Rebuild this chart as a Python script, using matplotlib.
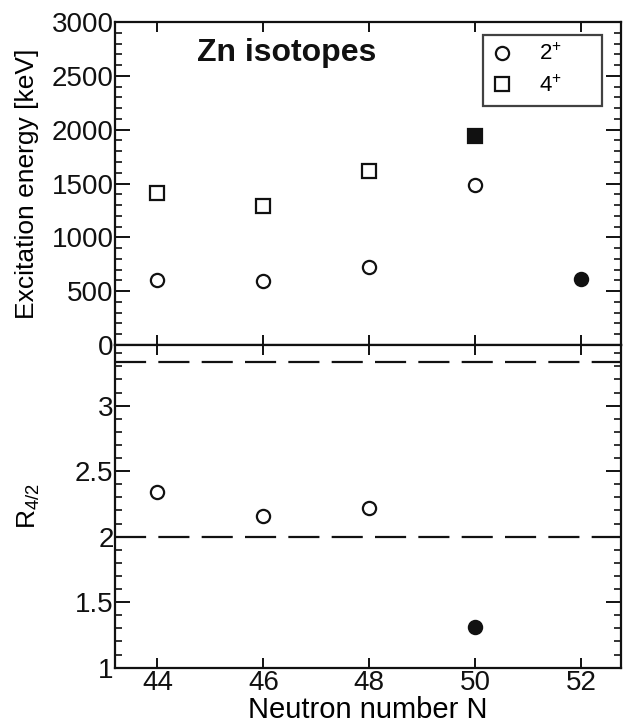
import matplotlib
matplotlib.use("Agg")
import matplotlib.pyplot as plt
from matplotlib.ticker import MultipleLocator, FixedLocator

plt.rcParams['font.family'] = ['Liberation Sans', 'DejaVu Sans']
plt.rcParams['mathtext.fontset'] = 'custom'
plt.rcParams['mathtext.rm'] = 'Liberation Sans'
plt.rcParams['mathtext.it'] = 'Liberation Sans:italic'

# ---- data ----
N_2plus_open = [44, 46, 48, 50]
E_2plus_open = [600, 595, 725, 1485]
N_2plus_filled = [52]
E_2plus_filled = [615]

N_4plus_open = [44, 46, 48]
E_4plus_open = [1412, 1290, 1615]
N_4plus_filled = [50]
E_4plus_filled = [1945]

N_R_open = [44, 46, 48]
R_open = [2.34, 2.16, 2.22]
N_R_filled = [50]
R_filled = [1.31]

R_ref_lines = [3.33, 2.0]

x_ticks = [44, 46, 48, 50, 52]
E_ticks = [0, 500, 1000, 1500, 2000, 2500, 3000]
R_ticks = [1, 1.5, 2, 2.5, 3]
R_tick_labels = ["1", "1.5", "2", "2.5", "3"]

W, H = 626, 726
fig = plt.figure(figsize=(W / 100, H / 100), dpi=100)

left = 115 / W
right = 621 / W
ax1 = fig.add_axes([left, (H - 345) / H, right - left, (345 - 22) / H])
ax2 = fig.add_axes([left, (H - 667.7) / H, right - left, (667.7 - 345) / H])

col = '#111111'
ms = 9.5
mew = 1.6

# top panel
ax1.plot(N_2plus_open, E_2plus_open, linestyle='none', marker='o', ms=ms,
         mfc='white', mec=col, mew=mew, label=r'2$^{+}$')
ax1.plot(N_4plus_open, E_4plus_open, linestyle='none', marker='s', ms=ms,
         mfc='white', mec=col, mew=mew, label=r'4$^{+}$')
ax1.plot(N_2plus_filled, E_2plus_filled, linestyle='none', marker='o', ms=ms,
         mfc=col, mec=col, mew=mew)
ax1.plot(N_4plus_filled, E_4plus_filled, linestyle='none', marker='s', ms=ms,
         mfc=col, mec=col, mew=mew)

ax1.set_xlim(43.2, 52.75)
ax1.set_ylim(0, 3000)
ax1.set_yticks(E_ticks)
ax1.yaxis.set_minor_locator(MultipleLocator(100))
ax1.set_xticks(x_ticks)
ax1.tick_params(axis='x', labelbottom=False)
ax1.set_ylabel('Excitation energy [keV]', fontsize=19)
ax1.yaxis.set_label_coords(-0.15, 0.5)
ax1.text(0.34, 0.905, 'Zn isotopes', transform=ax1.transAxes, fontsize=23,
         fontweight='bold', ha='center', va='center', color=col)

# legend box: x 483..602 px, y 35..108 px
lx0 = (483 - 115) / 506
lx1 = (602 - 115) / 506
ly1 = 1 - (35 - 22) / 323
ly0 = 1 - (108 - 22) / 323
leg = ax1.legend(loc='upper left', bbox_to_anchor=(lx0, ly0, lx1 - lx0, ly1 - ly0),
                 mode='expand', fontsize=16, frameon=True, fancybox=False,
                 borderpad=0.4, handlelength=0.9, handletextpad=1.2,
                 labelspacing=0.45, markerscale=1.0, borderaxespad=0)
leg.get_frame().set_edgecolor(col)
leg.get_frame().set_linewidth(1.6)

# bottom panel
for yv in R_ref_lines:
    ax2.axhline(yv, color=col, lw=1.6, dashes=(14, 5.5))
ax2.plot(N_R_open, R_open, linestyle='none', marker='o', ms=ms,
         mfc='white', mec=col, mew=mew)
ax2.plot(N_R_filled, R_filled, linestyle='none', marker='o', ms=ms,
         mfc=col, mec=col, mew=mew)
ax2.set_xlim(43.2, 52.75)
ax2.set_ylim(1, 3.463)
ax2.yaxis.set_major_locator(FixedLocator(R_ticks))
ax2.set_yticklabels(R_tick_labels)
ax2.yaxis.set_minor_locator(MultipleLocator(0.1))
ax2.set_xticks(x_ticks)
ax2.set_xlabel('Neutron number N', fontsize=21, labelpad=0)
ax2.set_ylabel(r'R$_{4/2}$', fontsize=19)
ax2.yaxis.set_label_coords(-0.145, 0.5)

for ax in (ax1, ax2):
    for sp in ax.spines.values():
        sp.set_linewidth(1.6)
        sp.set_color(col)
    ax.tick_params(axis='both', which='both', direction='in', top=True,
                   right=True, colors=col, labelcolor=col)
    ax.tick_params(axis='y', which='major', length=11, width=1.4,
                   labelsize=20, pad=1)
    ax.tick_params(axis='y', which='minor', length=5, width=1.2)
    ax.tick_params(axis='x', which='major', length=7, width=1.4,
                   labelsize=20, pad=2)
    ax.tick_params(axis='x', which='minor', bottom=False, top=False)

fig.savefig('out.png', dpi=100)
